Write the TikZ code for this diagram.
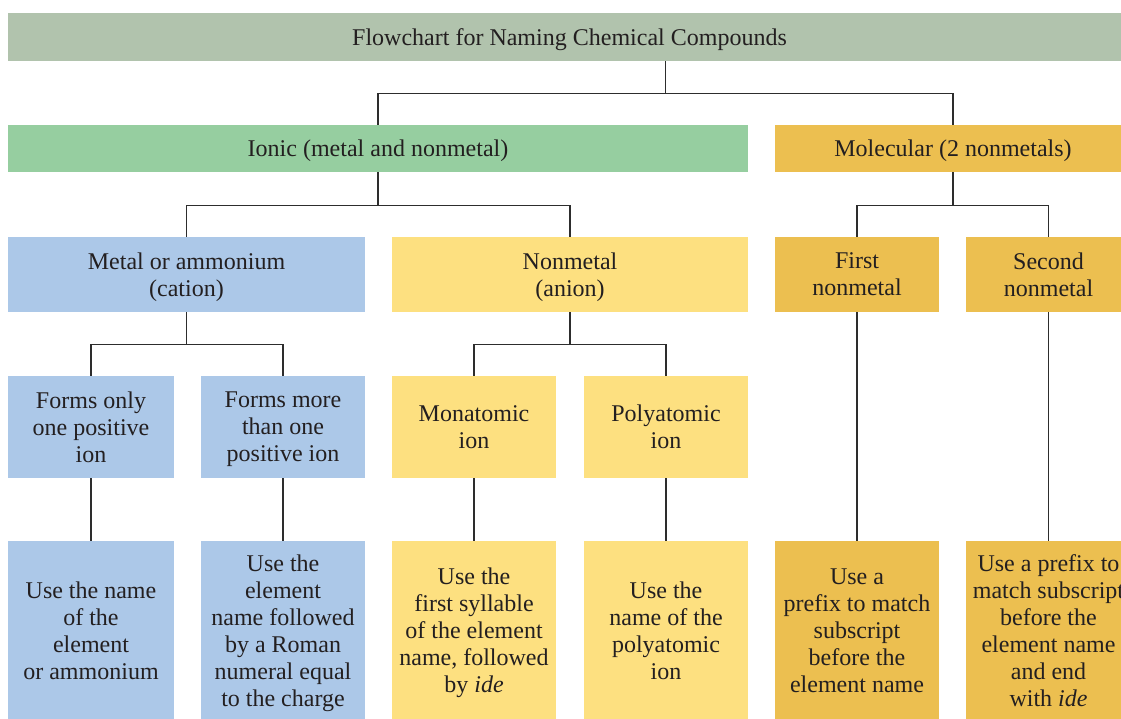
\documentclass[tikz,border=0pt]{standalone}
\usepackage{fontspec}
\setmainfont{Liberation Serif}
\usetikzlibrary{positioning}
\definecolor{TitleSage}{RGB}{177,195,173}
\definecolor{IonicGreen}{RGB}{150,206,160}
\definecolor{CationBlue}{RGB}{172,200,232}
\definecolor{AnionYellow}{RGB}{253,224,128}
\definecolor{MolecGold}{RGB}{236,191,80}
\definecolor{InkDark}{RGB}{35,31,32}
\definecolor{LinkGray}{RGB}{45,45,45}
\tikzset{
  link/.style={draw=LinkGray,line width=1.3pt},
  plainbox/.style={draw=none,inner sep=0pt,align=center,text=InkDark,text depth=0pt,
    font=\fontsize{24}{27}\selectfont},
  titlebox/.style={plainbox,fill=TitleSage,minimum height=48pt},
  ionicbox/.style={plainbox,fill=IonicGreen,minimum height=47pt},
  molecbox/.style={plainbox,fill=MolecGold},
  cationbox/.style={plainbox,fill=CationBlue},
  anionbox/.style={plainbox,fill=AnionYellow}
}
\begin{document}
\begin{tikzpicture}[x=1pt,y=-1pt]
  \useasboundingbox (0,0) rectangle (1121,718);
  % top two levels
  \node[titlebox,minimum width=1123pt] (title) at (569.5,37) {Flowchart for Naming Chemical Compounds};
  \node[ionicbox,minimum width=740pt] (ionic) at (378,148.5) {Ionic (metal and nonmetal)};
  \node[molecbox,minimum width=356pt,minimum height=47pt] (molec) at (953,148.5) {Molecular (2 nonmetals)};
  % third level
  \node[cationbox,minimum width=357pt,minimum height=75pt] (metal) at (186.5,274.5) {Metal or ammonium\\(cation)};
  \node[anionbox,minimum width=356pt,minimum height=75pt] (nonmetal) at (570,274.5) {Nonmetal\\(anion)};
  \node[molecbox,minimum width=164pt,minimum height=75pt] (first) at (857,274.5) {First\\nonmetal};
  \node[molecbox,minimum width=165pt,minimum height=75pt] (second) at (1048.5,274.5) {Second\\nonmetal};
  % fourth level
  \node[cationbox,minimum width=166pt,minimum height=102pt] (onlyone) at (91,427) {Forms only\\one positive\\ion};
  \node[cationbox,minimum width=164pt,minimum height=102pt] (morethan) at (283,427) {Forms more\\than one\\positive ion};
  \node[anionbox,minimum width=164pt,minimum height=102pt] (monatomic) at (474,427) {Monatomic\\ion};
  \node[anionbox,minimum width=164pt,minimum height=102pt] (polyatomic) at (666,427) {Polyatomic\\ion};
  % naming rules
  \node[cationbox,below=63pt of onlyone,minimum width=166pt,minimum height=178pt] (rulename) {Use the name\\of the\\element\\or ammonium};
  \node[cationbox,below=63pt of morethan,minimum width=164pt,minimum height=178pt] (ruleroman) {Use the\\element\\name followed\\by a Roman\\numeral equal\\to the charge};
  \node[anionbox,below=63pt of monatomic,minimum width=164pt,minimum height=178pt] (rulemono) {Use the\\first syllable\\of the element\\name, followed\\by \textit{ide}};
  \node[anionbox,below=63pt of polyatomic,minimum width=164pt,minimum height=178pt] (rulepoly) {Use the\\name of the\\polyatomic\\ion};
  \node[molecbox,below=229pt of first,minimum width=164pt,minimum height=178pt] (rulefirst) {Use a\\prefix to match\\subscript\\before the\\element name};
  \node[molecbox,below=229pt of second,minimum width=165pt,minimum height=178pt] (rulesecond) {Use a prefix to\\match subscript\\before the\\element name\\and end\\with \textit{ide}};
  % split points
  \coordinate (topsplit) at ([xshift=96pt,yshift=-32pt]title.south);
  \coordinate (ionicsplit) at ([yshift=-33pt]ionic.south);
  \coordinate (molecsplit) at ([yshift=-33pt]molec.south);
  \coordinate (metalsplit) at ([yshift=-32pt]metal.south);
  \coordinate (nonmetalsplit) at ([yshift=-32pt]nonmetal.south);
  % connectors
  \draw[link] (title.south -| topsplit) -- (topsplit);
  \draw[link] (ionic) |- (topsplit) -| (molec);
  \draw[link] (ionic) -- (ionicsplit);
  \draw[link] (metal) |- (ionicsplit) -| (nonmetal);
  \draw[link] (molec) -- (molecsplit);
  \draw[link] (first) |- (molecsplit) -| (second);
  \draw[link] (metal) -- (metalsplit);
  \draw[link] (onlyone) |- (metalsplit) -| (morethan);
  \draw[link] (nonmetal) -- (nonmetalsplit);
  \draw[link] (monatomic) |- (nonmetalsplit) -| (polyatomic);
  \draw[link] (onlyone) -- (rulename);
  \draw[link] (morethan) -- (ruleroman);
  \draw[link] (monatomic) -- (rulemono);
  \draw[link] (polyatomic) -- (rulepoly);
  \draw[link] (first) -- (rulefirst);
  \draw[link] (second) -- (rulesecond);
\end{tikzpicture}
\end{document}
